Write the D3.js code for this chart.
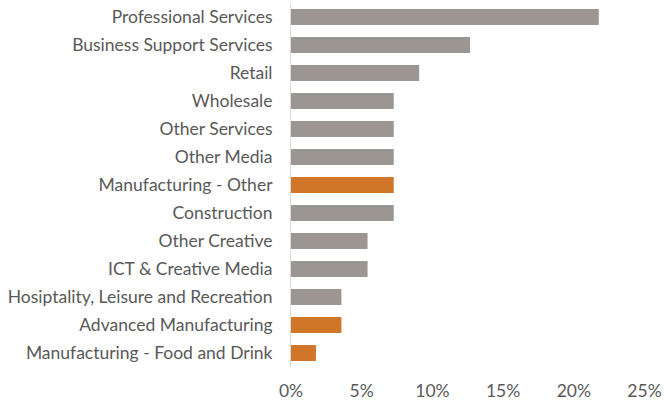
<!DOCTYPE html>
<html>
<head>
<meta charset="utf-8">
<script src="https://cdn.jsdelivr.net/npm/d3@7"></script>
<style>
  html, body { margin: 0; padding: 0; background: #fff; }
  svg { display: block; }
</style>
</head>
<body>
<svg id="chart" width="664" height="401"></svg>
<script>
// Share of businesses by sector
const categories = [
  "Professional Services",
  "Business Support Services",
  "Retail",
  "Wholesale",
  "Other Services",
  "Other Media",
  "Manufacturing - Other",
  "Construction",
  "Other Creative",
  "ICT & Creative Media",
  "Hosiptality, Leisure and Recreation",
  "Advanced Manufacturing",
  "Manufacturing - Food and Drink"
];
const values = [0.218, 0.127, 0.091, 0.073, 0.073, 0.073, 0.073, 0.073, 0.0545, 0.0545, 0.036, 0.036, 0.018];
const highlighted = ["Manufacturing - Other", "Advanced Manufacturing", "Manufacturing - Food and Drink"];
const tickValues = [0, 0.05, 0.10, 0.15, 0.20, 0.25];

const svg = d3.select("#chart");
const font = "Lato, 'Open Sans', sans-serif";
const textColor = "#595959";
const fontSize = "17.5px";

const x = d3.scaleLinear().domain([0, 0.25]).range([290.5, 644]);
const y = d3.scaleBand().domain(categories).range([3, 367]).paddingInner(0.43).paddingOuter(0.215);

const data = categories.map((c, i) => ({ cat: c, val: values[i] }));

// bars
svg.append("g").selectAll("rect")
  .data(data)
  .join("rect")
  .attr("x", x(0))
  .attr("y", d => y(d.cat))
  .attr("width", d => x(d.val) - x(0))
  .attr("height", y.bandwidth())
  .attr("fill", d => highlighted.includes(d.cat) ? "#d07629" : "#9b9692");

// vertical category axis line
svg.append("line")
  .attr("x1", x(0)).attr("x2", x(0))
  .attr("y1", 3).attr("y2", 367)
  .attr("stroke", "#d9d9d9").attr("stroke-width", 1);

// category labels
const yAxis = svg.append("g")
  .attr("transform", `translate(${x(0)},0)`)
  .call(d3.axisLeft(y).tickSize(0).tickPadding(18));
yAxis.select(".domain").remove();
yAxis.selectAll("text")
  .attr("fill", textColor)
  .style("font-family", font)
  .style("font-size", fontSize);

// percentage axis
const xAxis = svg.append("g")
  .attr("transform", "translate(0,391)")
  .call(d3.axisBottom(x).tickValues(tickValues).tickSize(0).tickPadding(0).tickFormat(d3.format(".0%")));
xAxis.select(".domain").remove();
xAxis.selectAll("text")
  .attr("fill", textColor)
  .attr("y", 0)
  .attr("dy", "0.35em")
  .style("font-family", font)
  .style("font-size", fontSize);
</script>
</body>
</html>
